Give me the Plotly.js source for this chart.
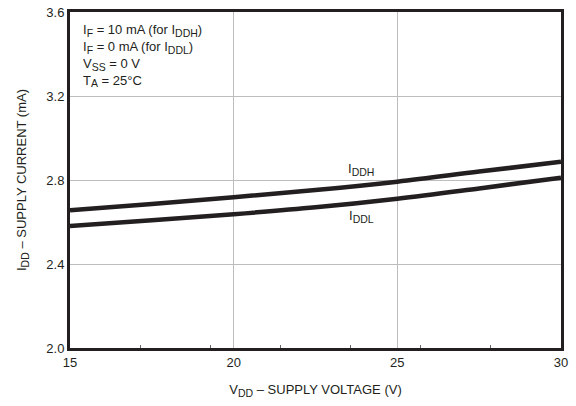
<!DOCTYPE html>
<html><head><meta charset="utf-8">
<script src="https://cdn.plot.ly/plotly-3.0.1.min.js"></script>
<style>html,body{margin:0;padding:0;background:#fff;}#chart{width:576px;height:406px;}</style>
</head><body><div id="chart"></div>
<script>
const voltage = [15, 17.5, 20, 22.5, 25, 27.5, 30];
const iddH = [2.656, 2.686, 2.718, 2.752, 2.792, 2.840, 2.887];
const iddL = [2.581, 2.608, 2.637, 2.670, 2.711, 2.760, 2.811];
const xTicks = [15, 20, 25, 30];
const yTicks = [2.0, 2.4, 2.8, 3.2, 3.6];
const yTickText = ['2.0', '2.4', '2.8', '3.2', '3.6'];
const sb = s => '<sub><span style="font-size:10.5px">' + s + '</span></sub>';
const conditions = ['I' + sb('F') + ' = 10 mA (for I' + sb('DDH') + ')', 'I' + sb('F') + ' = 0 mA (for I' + sb('DDL') + ')', 'V' + sb('SS') + ' = 0 V', 'T' + sb('A') + ' = 25°C'];
const curveLabels = [
  {text: 'I' + sb('DDH'), x: 23.9, y: 2.85},
  {text: 'I' + sb('DDL'), x: 23.9, y: 2.625}
];
const ink = '#231f20';
const fontFam = 'Liberation Sans, Arial, sans-serif';

const traces = [
  {x: voltage, y: iddH, mode: 'lines', line: {color: ink, width: 4.5, shape: 'spline'}, hoverinfo: 'none'},
  {x: voltage, y: iddL, mode: 'lines', line: {color: ink, width: 4.5, shape: 'spline'}, hoverinfo: 'none'},
  {x: [15, 30], y: [2.0, 2.0], xaxis: 'x2', mode: 'lines', line: {width: 0}, hoverinfo: 'none'}
];

const annotations = [{
  text: conditions.join('<br>'), xref: 'paper', yref: 'paper', x: 0.022, y: 0.977,
  xanchor: 'left', yanchor: 'top', align: 'left', showarrow: false,
  font: {family: fontFam, size: 13, color: ink}
}];
curveLabels.forEach(c => annotations.push({
  text: c.text, x: c.x, y: c.y, xref: 'x', yref: 'y', showarrow: false,
  xanchor: 'center', yanchor: 'middle', font: {family: fontFam, size: 13, color: ink}
}));

const layout = {
  width: 576, height: 406,
  margin: {l: 70, r: 15, t: 12, b: 58},
  paper_bgcolor: '#ffffff', plot_bgcolor: '#ffffff',
  showlegend: false,
  font: {family: fontFam, size: 13, color: ink},
  xaxis: {
    range: [15, 30], tickvals: xTicks, ticktext: xTicks.map(String),
    showgrid: true, gridcolor: '#bdbdbd', gridwidth: 1,
    showline: true, linecolor: ink, linewidth: 3, mirror: true,
    ticks: '', zeroline: false, fixedrange: true,
    tickfont: {family: fontFam, size: 13, color: ink},
    title: {text: 'V' + sb('DD') + ' – SUPPLY VOLTAGE (V)', font: {family: fontFam, size: 13, color: ink}, standoff: 17}
  },
  xaxis2: {
    overlaying: 'x', side: 'bottom', range: [15, 30], tick0: 15, dtick: 15 / 7,
    ticks: 'inside', ticklen: 3, tickwidth: 1, tickcolor: '#666666',
    showticklabels: false, showgrid: false, showline: false, zeroline: false, fixedrange: true
  },
  yaxis: {
    range: [2.0, 3.6], tickvals: yTicks, ticktext: yTickText,
    showgrid: true, gridcolor: '#bdbdbd', gridwidth: 1,
    showline: true, linecolor: ink, linewidth: 3, mirror: true,
    ticks: '', zeroline: false, fixedrange: true,
    tickfont: {family: fontFam, size: 13, color: ink},
    title: {text: 'I' + sb('DD') + ' – SUPPLY CURRENT (mA)', font: {family: fontFam, size: 13, color: ink}, standoff: 17}
  },
  annotations: annotations
};

Plotly.newPlot('chart', traces, layout, {staticPlot: true, displayModeBar: false});
</script></body></html>
